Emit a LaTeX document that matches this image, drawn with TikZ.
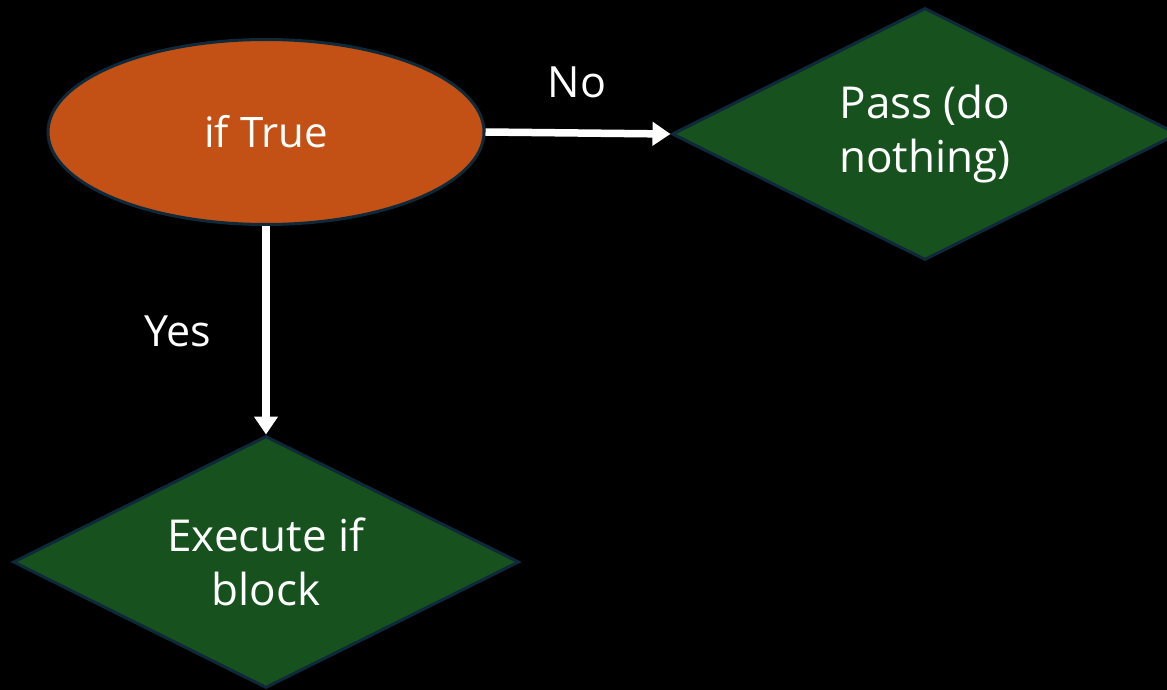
\documentclass[tikz,border=0pt]{standalone}
\usepackage{fontspec}
\setmainfont{Open Sans}
\usetikzlibrary{shapes.geometric,arrows.meta}
\definecolor{burnt}{HTML}{C35015}
\definecolor{leaf}{HTML}{17521E}
\definecolor{rim}{HTML}{0E2A3A}
\tikzset{
  decision/.style={ellipse, draw=rim, line width=3pt, fill=burnt,
    minimum width=436pt, minimum height=185pt, inner sep=0pt,
    text=white, font=\fontsize{42}{50}\selectfont},
  outcome/.style={diamond, draw=rim, line width=3pt, fill=leaf,
    minimum width=506pt, minimum height=252pt, inner sep=0pt, aspect=2,
    text=white, align=center, font=\fontsize{44}{54}\selectfont},
  flow/.style={draw=white, line width=7.5pt,
    -{Triangle[width=23pt,length=18pt]}},
  tag/.style={text=white, font=\fontsize{43}{50}\selectfont}
}
\begin{document}
\begin{tikzpicture}[x=1pt,y=-1pt]
  \fill[black] (0,0) rectangle (1167,690);
  \useasboundingbox (0,0) rectangle (1167,690);
  \begin{scope}
    \clip (0,0) rectangle (1167,690);
    \node[decision] (cond) at (266,132) {if True};
    \node[outcome] (pass) at (925,134) {Pass (do\\nothing)};
    \node[outcome] (exec) at (266,562) {Execute if\\block};
    \draw[flow] (cond.east) -- (pass.west);
    \draw[flow] (cond.south) -- (exec.north);
    \node[tag] (no) at (577,82) {No};
    \node[tag] (yes) at (178,331) {Yes};
  \end{scope}
\end{tikzpicture}
\end{document}
